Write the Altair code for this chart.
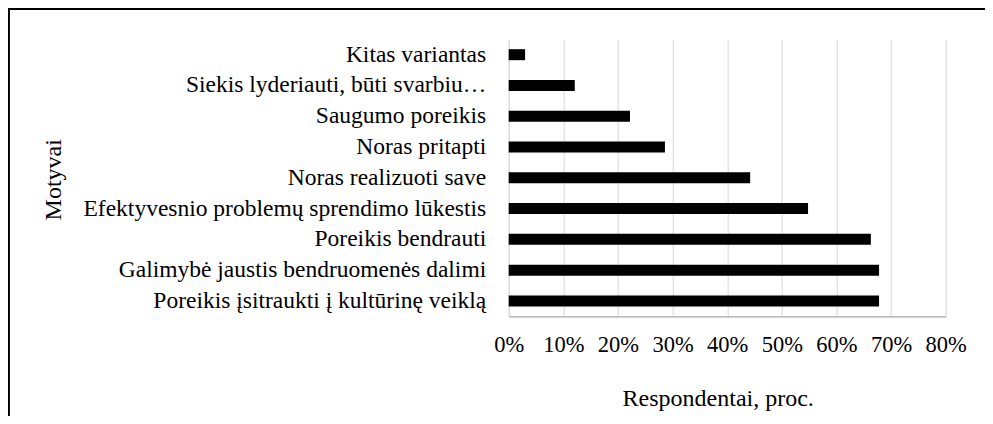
import altair as alt
import pandas as pd

categories = [
    "Kitas variantas",
    "Siekis lyderiauti, būti svarbiu…",
    "Saugumo poreikis",
    "Noras pritapti ",
    "Noras realizuoti save ",
    "Efektyvesnio problemų sprendimo lūkestis",
    "Poreikis bendrauti",
    "Galimybė  jaustis bendruomenės dalimi",
    "Poreikis įsitraukti į kultūrinę veiklą",
]
values = [0.030, 0.121, 0.222, 0.286, 0.442, 0.548, 0.663, 0.678, 0.678]
x_ticks = [0, 0.1, 0.2, 0.3, 0.4, 0.5, 0.6, 0.7, 0.8]

df = pd.DataFrame({"motyvas": categories, "reiksme": values})

FONT = "Liberation Serif, Times New Roman, DejaVu Serif, serif"
W, H = 437, 277

bars = alt.Chart(df).mark_bar(color="#000000", size=11).encode(
    x=alt.X(
        "reiksme:Q",
        scale=alt.Scale(domain=[0, 0.8], nice=False),
        axis=alt.Axis(
            values=x_ticks,
            format=".0%",
            title="Respondentai, proc.",
            titleX=209,
            titleY=82,
            titleAlign="center",
            titleBaseline="middle",
            titleFont=FONT,
            titleFontSize=24,
            titleFontWeight="normal",
            titleColor="#000000",
            labelFont=FONT,
            labelFontSize=22.5,
            labelColor="#000000",
            labelBaseline="middle",
            labelPadding=28,
            labelFlush=False,
            tickSize=0,
            domainColor="#a6a6a6",
            domainWidth=1.2,
            grid=True,
            gridColor="#d9d9d9",
            gridWidth=1,
        ),
    ),
    y=alt.Y(
        "motyvas:N",
        sort=categories,
        scale=alt.Scale(paddingInner=0, paddingOuter=0),
        axis=alt.Axis(
            title="Motyvai",
            titleX=-455,
            titleY=140,
            titleAngle=-90,
            titleAlign="center",
            titleBaseline="middle",
            titleFont=FONT,
            titleFontSize=24,
            titleFontWeight="normal",
            titleColor="#000000",
            labelFont=FONT,
            labelFontSize=23.5,
            labelColor="#000000",
            labelPadding=23,
            labelLimit=600,
            tickSize=0,
            domainColor="#d9d9d9",
            domainWidth=1,
            grid=False,
        ),
    ),
)

frame = alt.Chart(df).mark_rect(
    fill=None, stroke="#000000", strokeWidth=1.5, clip=False
).encode(
    x=alt.value(-500.2),
    x2=alt.value(520),
    y=alt.value(-30),
    y2=alt.value(420),
)

chart = (
    alt.layer(bars, frame)
    .properties(
        width=W,
        height=H,
        autosize=alt.AutoSizeParams(type="none"),
        padding={"left": 500.7, "top": 31.3, "right": 39.3, "bottom": 99.7},
        background="#ffffff",
    )
    .configure_view(stroke=None)
)

chart.save("out.html", embed_options={"renderer": "svg", "actions": False})
